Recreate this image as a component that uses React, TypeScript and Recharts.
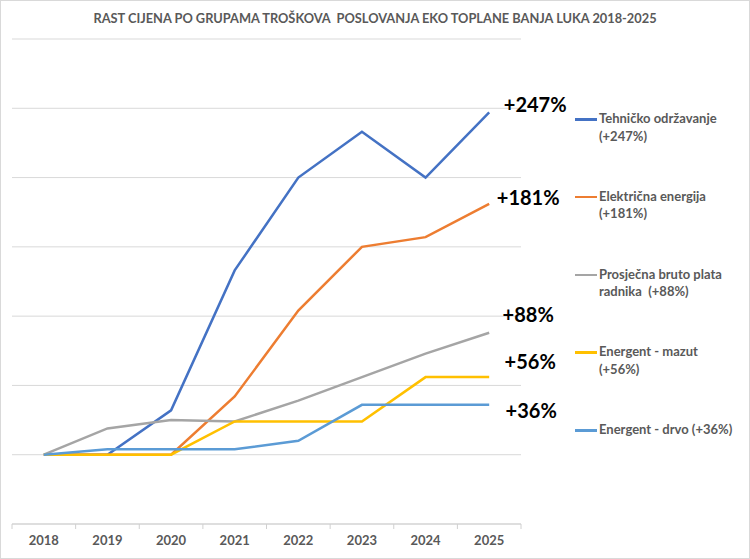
import { LineChart, Line, XAxis, YAxis, CartesianGrid, LabelList } from 'recharts'

const years = ['2018', '2019', '2020', '2021', '2022', '2023', '2024', '2025']
const tehnicko = [0, 0, 32, 133, 200, 233, 200, 247]
const elektricna = [0, 0, 0, 42, 104, 150, 157, 181]
const plata = [0, 19, 25, 24, 39, 56, 73, 88]
const mazut = [0, 0, 0, 24, 24, 24, 56, 56]
const drvo = [0, 4, 4, 4, 10, 36, 36, 36]

const seriesNames = [
  'Tehničko održavanje\n(+247%)',
  'Električna energija\n(+181%)',
  'Prosječna bruto plata\nradnika  (+88%)',
  'Energent - mazut\n(+56%)',
  'Energent - drvo (+36%)',
]
const endLabels = ['+247%', '+181%', '+88%', '+56%', '+36%']
const yTicks = [-50, 0, 50, 100, 150, 200, 250, 300]

const COLORS = ['#4472C4', '#ED7D31', '#A5A5A5', '#FFC000', '#5B9BD5']
const FONT = 'Lato, "Open Sans", sans-serif'
// where each end label sits relative to the last point
const LABEL_SHIFT = [
  { dx: 46, dy: -8 },
  { dx: 39, dy: -7 },
  { dx: 39, dy: -19 },
  { dx: 41, dy: -16 },
  { dx: 42, dy: 5 },
]

const allSeries = [tehnicko, elektricna, plata, mazut, drvo]

const data = years.map((year, i) => {
  const row: Record<string, number | string> = { i, year }
  allSeries.forEach((s, k) => {
    row[`s${k}`] = s[i]
  })
  return row
})

// tick marks sit between the years, labels sit on them
const bandTicks = years.map((_, i) => i - 0.5).concat(years.length - 0.5)
const centerTicks = years.map((_, i) => i)

function endLabel(k: number) {
  return (props: any) => {
    if (props.index !== years.length - 1) return null
    const x = props.viewBox?.x ?? props.x
    const y = props.viewBox?.y ?? props.y
    return (
      <text
        x={x + LABEL_SHIFT[k].dx}
        y={y + LABEL_SHIFT[k].dy}
        textAnchor="middle"
        dominantBaseline="central"
        fill="#000"
        fontSize={20}
        fontWeight={700}
        fontFamily={FONT}
      >
        {endLabels[k]}
      </text>
    )
  }
}

export default function App() {
  return (
    <div
      style={{
        position: 'relative',
        width: 750,
        height: 559,
        boxSizing: 'border-box',
        border: '1px solid #d9d9d9',
        background: '#fff',
        fontFamily: FONT,
      }}
    >
      <style>{'body{margin:0}'}</style>
      <div
        style={{
          position: 'absolute',
          top: 8,
          left: 0,
          right: 0,
          textAlign: 'center',
          fontSize: 12.8,
          lineHeight: '18px',
          fontWeight: 700,
          color: '#595959',
          whiteSpace: 'pre',
        }}
      >
        {'RAST CIJENA PO GRUPAMA TROŠKOVA  POSLOVANJA EKO TOPLANE BANJA LUKA 2018-2025'}
      </div>

      <div style={{ position: 'absolute', top: -1, left: -1 }}>
        <LineChart width={750} height={557} data={data} margin={{ top: 39, right: 229, bottom: 0, left: 12 }}>
          <CartesianGrid vertical={false} stroke="#d9d9d9" xAxisId="year" />
          <XAxis
            xAxisId="band"
            type="number"
            dataKey="i"
            domain={[-0.5, years.length - 0.5]}
            ticks={bandTicks}
            allowDataOverflow
            height={4}
            tickFormatter={() => ''}
            tickSize={5}
            tickLine={{ stroke: '#d0d0d0' }}
            axisLine={{ stroke: '#d0d0d0' }}
          />
          <XAxis
            xAxisId="year"
            type="number"
            dataKey="i"
            domain={[-0.5, years.length - 0.5]}
            ticks={centerTicks}
            allowDataOverflow
            interval={0}
            height={29}
            tickLine={false}
            axisLine={false}
            tickSize={0}
            tickMargin={8}
            tickFormatter={(v: number) => years[v] ?? ''}
            tick={{ fill: '#595959', fontSize: 13, fontWeight: 700, fontFamily: FONT }}
          />
          <YAxis hide type="number" domain={[-50, 300]} ticks={yTicks} allowDataOverflow />
          {allSeries.map((_, k) => (
            <Line
              key={k}
              xAxisId="year"
              type="linear"
              dataKey={`s${k}`}
              name={seriesNames[k]}
              stroke={COLORS[k]}
              strokeWidth={2.5}
              dot={false}
              activeDot={false}
              isAnimationActive={false}
            >
              <LabelList dataKey={`s${k}`} content={endLabel(k)} />
            </Line>
          ))}
        </LineChart>
      </div>

      <div style={{ position: 'absolute', top: 109, left: 574, width: 176 }}>
        {seriesNames.map((name, k) => (
          <div key={k} style={{ display: 'flex', alignItems: 'flex-start', height: 77.75 }}>
            <div
              style={{
                width: 22,
                height: 2.5,
                marginTop: 8,
                marginRight: 2,
                background: COLORS[k],
                flexShrink: 0,
              }}
            />
            <div
              style={{
                fontSize: 13,
                lineHeight: '17.5px',
                fontWeight: 700,
                color: '#595959',
                whiteSpace: 'pre',
              }}
            >
              {name}
            </div>
          </div>
        ))}
      </div>
    </div>
  )
}
